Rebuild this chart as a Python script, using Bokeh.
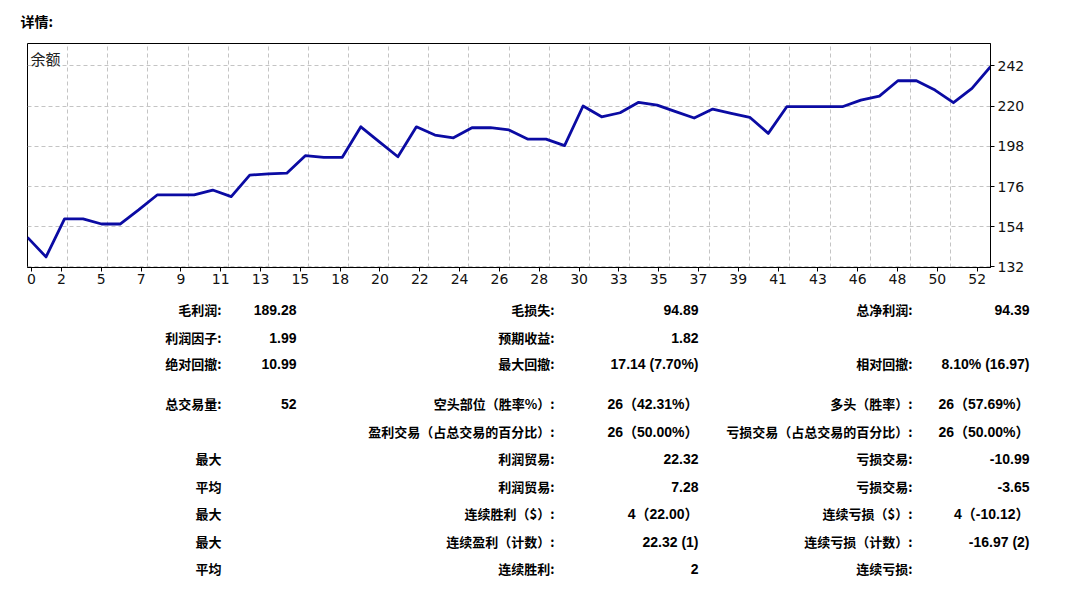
from bokeh.plotting import figure
from bokeh.models import Range1d, FixedTicker, Label, ColumnDataSource, CustomJSTickFormatter
from bokeh.layouts import column
from bokeh.embed import file_html
from bokeh.resources import INLINE
from bokeh.core.properties import value

# ---------------- data ----------------
balance = [148.2, 137.5, 158.3, 158.3, 155.5, 155.5, 163.2, 171.4, 171.4, 171.4,
           174.1, 170.5, 182.3, 182.9, 183.3, 192.9, 192.0, 192.0, 208.7, 200.5,
           192.3, 208.7, 204.2, 202.7, 208.2, 208.2, 207.0, 202.0, 202.0, 198.4,
           220.1, 214.2, 216.4, 222.1, 220.6, 217.0, 213.5, 218.4, 216.1, 213.9,
           205.1, 219.7, 219.7, 219.7, 219.7, 223.3, 225.5, 233.9, 233.9, 228.8,
           221.9, 229.7, 241.6]
trade_index = list(range(len(balance)))

x_tick_labels = ["0", "2", "5", "7", "9", "11", "13", "15", "18", "20", "22", "24", "26",
                 "28", "30", "33", "35", "37", "39", "41", "43", "46", "48", "50", "52"]
y_ticks = [132, 154, 176, 198, 220, 242]

title_text = "详情:"
series_name = "余额"

col_a_labels = ["毛利润:", "利润因子:", "绝对回撤:", "总交易量:", "", "最大", "平均", "最大", "最大", "平均"]
col_a_values = ["189.28", "1.99", "10.99", "52", "", "", "", "", "", ""]
col_b_labels = ["毛损失:", "预期收益:", "最大回撤:", "空头部位（胜率%）:", "盈利交易（占总交易的百分比）:",
                "利润贸易:", "利润贸易:", "连续胜利（$）:", "连续盈利（计数）:", "连续胜利:"]
col_b_values = ["94.89", "1.82", "17.14 (7.70%)", "26（42.31%）", "26（50.00%）",
                "22.32", "7.28", "4（22.00）", "22.32 (1)", "2"]
col_c_labels = ["总净利润:", "", "相对回撤:", "多头（胜率）:", "亏损交易（占总交易的百分比）:",
                "亏损交易:", "亏损交易:", "连续亏损（$）:", "连续亏损（计数）:", "连续亏损:"]
col_c_values = ["94.39", "", "8.10% (16.97)", "26（57.69%）", "26（50.00%）",
                "-10.99", "-3.65", "4（-10.12）", "-16.97 (2)", ""]

# ---------------- layout constants ----------------
W = 1062
H1 = 298
H2 = 288
LEFT = 27
FRAME_W = 963
RIGHT = W - LEFT - FRAME_W
N_DIV = len(x_tick_labels) - 1
x_max = trade_index[-1]
grid_ticks = [k * x_max / N_DIV for k in range(N_DIV + 1)]
px = x_max / FRAME_W  # data units per pixel
LABEL_PITCH = 39.81   # pixel pitch of the x labels
LABEL_SHIFT = -5.8    # pixel offset of label k>=1 from the frame's left edge
label_pos = [(LABEL_SHIFT + LABEL_PITCH * k) * px for k in range(N_DIV + 1)]
label_pos[0] = 4 * px

axis_font = "DejaVu Sans"

p = figure(width=W, height=H1, title=title_text,
           x_range=Range1d(0, x_max), y_range=Range1d(131.7, 254.3),
           y_axis_location="right", output_backend="svg", toolbar_location=None,
           min_border_left=LEFT, min_border_right=RIGHT,
           min_border_top=43, min_border_bottom=31,
           background_fill_color="white", border_fill_color="white")
p.frame_align = False

p.title.align = "left"
p.title.offset = -7
p.title.vertical_align = "top"
p.title.standoff = 21
p.title.text_font = "Noto Sans CJK SC"
p.title.text_font_size = "14px"
p.title.text_font_style = "bold"
p.title.text_color = "#000000"

p.outline_line_color = "#000000"
p.outline_line_width = 1

xa = p.below[0]
xa.ticker = FixedTicker(ticks=label_pos)
xa.formatter = CustomJSTickFormatter(args=dict(labels=x_tick_labels), code="return labels[index];")
xa.major_label_standoff = 2
xa.major_tick_out = 4
xa.major_tick_in = 0
xa.minor_tick_line_color = None
xa.axis_line_color = "#000000"
xa.major_tick_line_color = "#000000"
xa.major_label_text_font = axis_font
xa.major_label_text_font_size = "14px"
xa.major_label_text_color = "#111111"

ya = p.right[0]
ya.ticker = FixedTicker(ticks=y_ticks)
ya.major_tick_out = 4
ya.major_tick_in = 0
ya.minor_tick_line_color = None
ya.axis_line_color = "#000000"
ya.major_label_standoff = 3
ya.major_label_text_font = axis_font
ya.major_label_text_font_size = "14px"
ya.major_label_text_color = "#111111"

p.xgrid.ticker = FixedTicker(ticks=grid_ticks)
p.ygrid.ticker = FixedTicker(ticks=y_ticks)
for g in (p.xgrid, p.ygrid):
    g.grid_line_color = "#c4c4c4"
    g.grid_line_dash = "4 3"
    g.grid_line_width = 1

p.line(trade_index, balance, line_color="#0b0ba3", line_width=2.8, line_join="round")

p.add_layout(Label(x=0, y=254.3, text=series_name, x_offset=3, y_offset=-4,
                   text_baseline="top", text_align="left",
                   text_font="Noto Sans CJK SC", text_font_size="15px", text_color="#222222"))

# ---------------- statistics table ----------------
row_y = [11, 39, 65, 105, 133, 160, 188, 215, 243, 270]
col_x = [221, 296, 554, 698, 912, 1029]

q = figure(width=W, height=H2, x_range=Range1d(0, W), y_range=Range1d(H2, 0),
           x_axis_type=None, y_axis_type=None, output_backend="svg", toolbar_location=None,
           min_border=0, background_fill_color="white", border_fill_color="white")
q.frame_align = False
q.outline_line_color = None
q.grid.visible = False

label_font = value("Noto Sans CJK SC")
value_font = value("Liberation Sans, Noto Sans CJK SC")

columns = [(col_a_labels, label_font, "13px"), (col_a_values, value_font, "14px"),
           (col_b_labels, label_font, "13px"), (col_b_values, value_font, "14px"),
           (col_c_labels, label_font, "13px"), (col_c_values, value_font, "14px")]

for (texts, font, size), cx in zip(columns, col_x):
    xs, ys, ts = [], [], []
    for t, ry in zip(texts, row_y):
        if t:
            xs.append(cx)
            ys.append(ry)
            ts.append(t)
    src = ColumnDataSource(dict(x=xs, y=ys, text=ts))
    q.text(x="x", y="y", text="text", source=src, text_align="right", text_baseline="middle",
           text_font=font, text_font_style="bold", text_font_size=size, text_color="#000000")

layout = column(p, q, spacing=0)
open("out.html", "w").write(file_html(layout, INLINE))
